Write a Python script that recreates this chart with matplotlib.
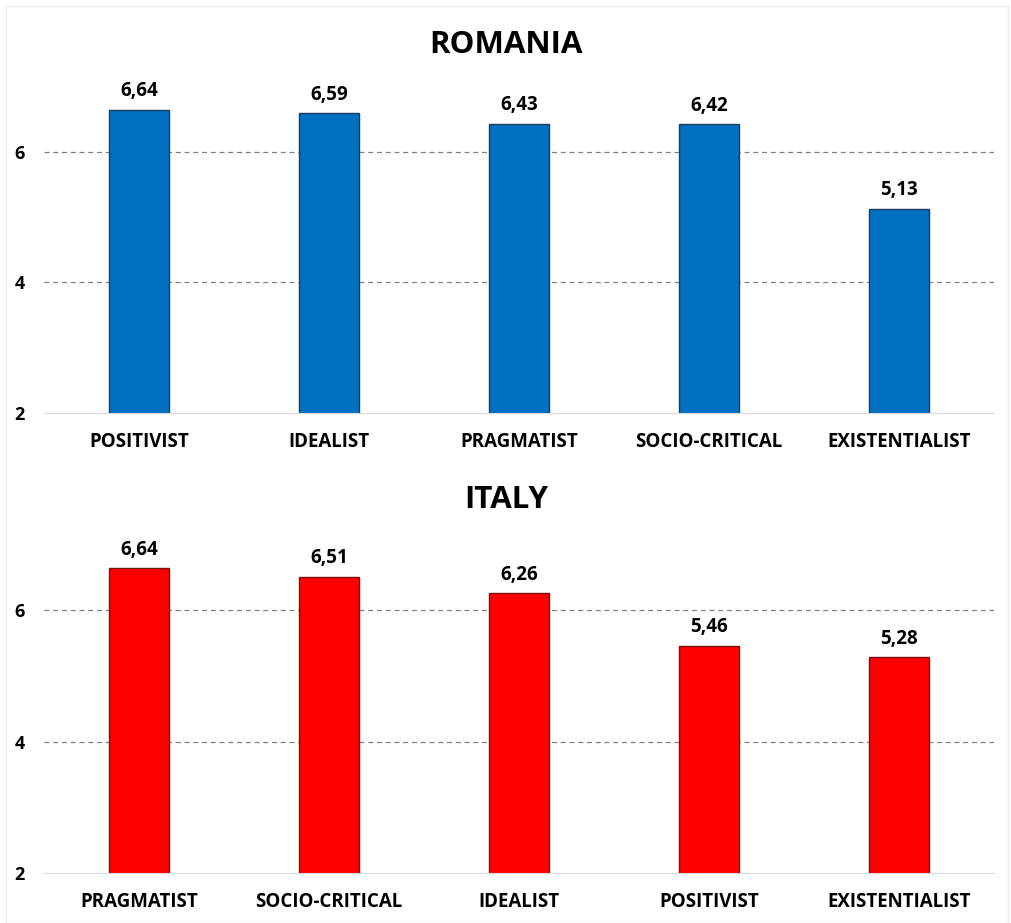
import matplotlib.pyplot as plt
from matplotlib.patches import Rectangle

# ---- data ----
ro_labels = ["POSITIVIST", "IDEALIST", "PRAGMATIST", "SOCIO-CRITICAL", "EXISTENTIALIST"]
ro_values = [6.64, 6.59, 6.43, 6.42, 5.13]

it_labels = ["PRAGMATIST", "SOCIO-CRITICAL", "IDEALIST", "POSITIVIST", "EXISTENTIALIST"]
it_values = [6.64, 6.51, 6.26, 5.46, 5.28]

yticks = [2, 4, 6]
# --------------

plt.rcParams['font.family'] = ['Open Sans', 'DejaVu Sans']

fig = plt.figure(figsize=(10.12, 9.23), dpi=100)

# faint frame around the picture
fig.patches.append(Rectangle((0.006, 0.0), 0.99, 0.993, transform=fig.transFigure,
                             fill=False, edgecolor='#ececec', linewidth=1))


def draw_panel(ax, labels, values, color, edge, title, title_y):
    x = range(len(labels))
    ax.bar(x, values, width=0.316, bottom=0, color=color, edgecolor=edge,
           linewidth=1.0, zorder=3)
    ax.set_ylim(2, 7)
    ax.set_xlim(-0.5, len(labels) - 0.5)
    ax.set_yticks(yticks)
    ax.set_yticklabels([str(t) for t in yticks], fontsize=13, fontweight='bold')
    ax.set_xticks(list(x))
    ax.set_xticklabels(labels, fontsize=13.5, fontweight='bold')
    ax.tick_params(axis='both', length=0)
    ax.tick_params(axis='y', pad=14)
    ax.tick_params(axis='x', pad=14)
    for s in ['top', 'right', 'left']:
        ax.spines[s].set_visible(False)
    ax.spines['bottom'].set_color('#d9d9d9')
    ax.spines['bottom'].set_zorder(4)
    for t in [4, 6]:
        ax.axhline(t, color='#808080', linestyle=(0, (4, 3)), linewidth=0.9, zorder=1)
    for i, v in enumerate(values):
        ax.annotate(f"{v:.2f}".replace('.', ','), (i, v), xytext=(0, 6),
                    textcoords='offset points', ha='center', va='bottom',
                    fontsize=13.5, fontweight='bold')
    fig.text(0.5, title_y, title, ha='center', va='center', fontsize=22.5, fontweight='bold')


ax1 = fig.add_axes([0.0435, 0.5525, 0.9387, 0.354])
draw_panel(ax1, ro_labels, ro_values, '#0070C0', '#1f3a5f', 'ROMANIA', 1 - 45 / 923)

ax2 = fig.add_axes([0.0435, 0.0542, 0.9387, 0.356])
draw_panel(ax2, it_labels, it_values, '#FF0000', '#7a1010', 'ITALY', 1 - 500 / 923)

plt.savefig('out.png', dpi=100)
